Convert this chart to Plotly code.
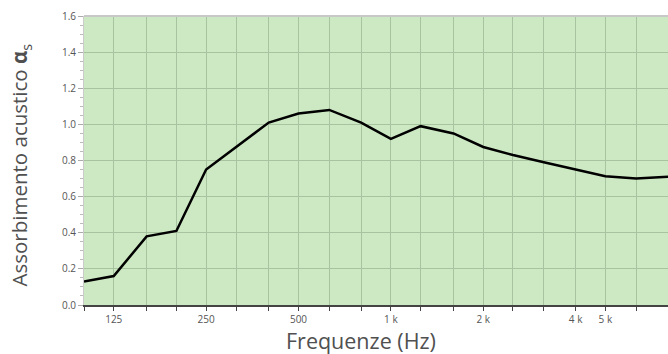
import plotly.graph_objects as go

freqs = [100, 125, 160, 200, 250, 315, 400, 500, 630, 800, 1000, 1250,
         1600, 2000, 2500, 3150, 4000, 5000, 6300, 8000]
alpha = [0.13, 0.16, 0.38, 0.41, 0.75, 0.88, 1.01, 1.06, 1.08, 1.01, 0.92, 0.99,
         0.95, 0.875, 0.83, 0.79, 0.75, 0.713, 0.70, 0.71]
tick_labels = ["", "125", "", "", "250", "", "", "500", "", "", "1 k", "",
               "", "2 k", "", "", "4 k", "5 k", "", ""]
x_title = "Frequenze (Hz)"
y_title = "Assorbimento acustico <b>α</b><sub>s</sub>"

fig = go.Figure()
fig.add_trace(go.Scatter(x=freqs, y=alpha, mode="lines",
                         line=dict(color="#000000", width=2.5),
                         hoverinfo="skip", showlegend=False))

font = "Open Sans, Noto Sans, sans-serif"
fig.update_layout(
    width=668, height=354,
    margin=dict(l=84, r=0, t=16, b=49),
    paper_bgcolor="white",
    plot_bgcolor="#cde9c3",
    font=dict(family=font, color="#555555"),
    xaxis=dict(
        type="log", range=[2, 3.90309],
        tickmode="array", tickvals=freqs, ticktext=tick_labels,
        showgrid=True, gridcolor="#a8c39f", gridwidth=1,
        ticks="outside", ticklen=4, tickcolor="#444444",
        showline=True, linecolor="#444444", linewidth=1.5,
        tickfont=dict(size=10, color="#555555"),
        zeroline=False,
    ),
    yaxis=dict(
        range=[0, 1.6], dtick=0.2, tickformat=".1f",
        showgrid=True, gridcolor="#a8c39f", gridwidth=1,
        ticks="outside", ticklen=5, tickcolor="#aaaaaa",
        minor=dict(dtick=0.05, ticks="outside", ticklen=3, tickcolor="#bbbbbb", showgrid=False),
        showline=True, linecolor="#cccccc", linewidth=1,
        tickfont=dict(size=10, color="#555555"),
        zeroline=False,
    ),
    annotations=[
        dict(text=x_title, xref="paper", yref="paper", x=0.474, y=-0.122,
             xanchor="center", yanchor="middle", showarrow=False,
             font=dict(size=21.5, color="#505050")),
        dict(text=y_title, xref="paper", yref="paper", x=-0.109, y=0.484,
             xanchor="center", yanchor="middle", textangle=-90, showarrow=False,
             font=dict(size=20.5, color="#505050")),
    ],
)
fig.add_shape(type="line", xref="paper", yref="paper", x0=0, x1=1, y0=1, y1=1,
              line=dict(color="#c8c8c8", width=2))
fig.write_html("out.html")
